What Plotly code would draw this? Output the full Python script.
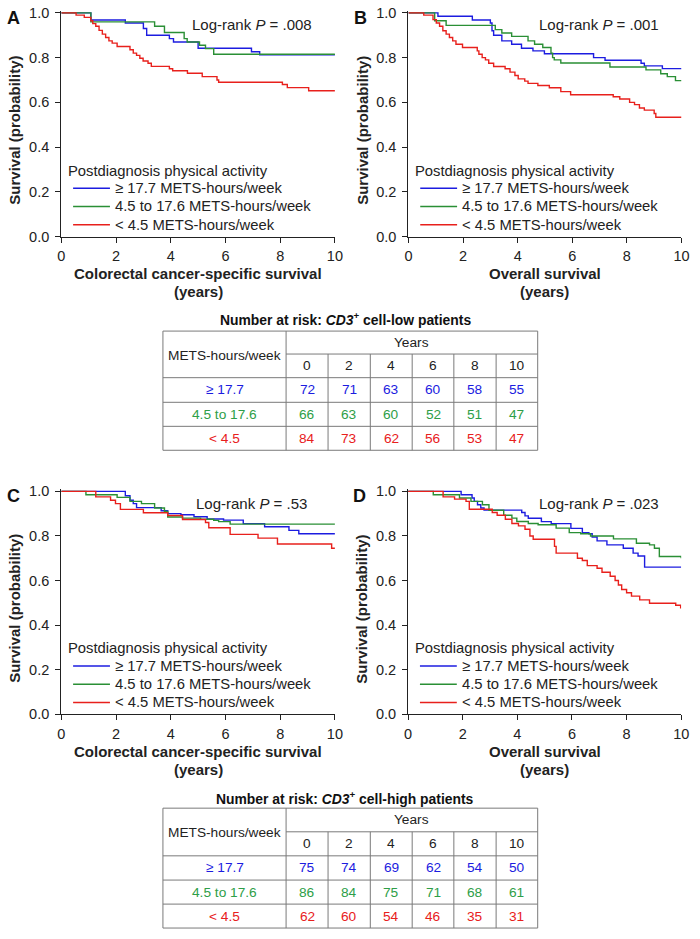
import plotly.graph_objects as go

W, H = 700, 939
FONT = "Liberation Sans, Arial, sans-serif"

groups = ["≥ 17.7 METS-hours/week", "4.5 to 17.6 METS-hours/week", "< 4.5 METS-hours/week"]
line_colors = ["#1c1ce0", "#2a8f35", "#e8201c"]
text_colors = ["#1c1ce0", "#2e9e48", "#e8201c"]
row_labels = ["≥ 17.7", "4.5 to 17.6", "< 4.5"]
year_ticks = [0, 2, 4, 6, 8, 10]

# ---- Panel A: colorectal cancer-specific survival, CD3 low ----
A_blue_t = [0, 1.08, 2.34, 3.0, 3.12, 3.95, 4.1, 5.0, 6.95, 7.25, 10]
A_blue_s = [1.0, 0.968, 0.955, 0.93, 0.90, 0.885, 0.87, 0.842, 0.826, 0.813, 0.813]
A_green_t = [0, 1.08, 3.41, 3.77, 4.49, 4.6, 5.05, 5.27, 5.57, 10]
A_green_s = [1.0, 0.96, 0.94, 0.912, 0.885, 0.87, 0.855, 0.84, 0.815, 0.815]
A_red_t = [0, 0.54, 0.84, 1.08, 1.15, 1.26, 1.38, 1.5, 1.62, 1.74, 1.86, 2.04, 2.51, 2.63, 2.75, 2.87,
           2.99, 3.17, 3.29, 3.95, 4.07, 4.61, 5.15, 5.69, 5.75, 8.08, 8.26, 9.04, 10]
A_red_s = [1.0, 0.99, 0.98, 0.965, 0.952, 0.94, 0.922, 0.905, 0.89, 0.875, 0.865, 0.85, 0.835, 0.82,
           0.81, 0.797, 0.785, 0.775, 0.761, 0.75, 0.741, 0.73, 0.715, 0.70, 0.69, 0.68, 0.666, 0.652, 0.652]

# ---- Panel B: overall survival, CD3 low ----
B_blue_t = [0, 1.08, 2.34, 3.0, 3.06, 3.12, 3.42, 3.78, 4.14, 4.56, 4.98, 6.78, 7.2, 8.52, 8.64, 9.3, 10]
B_blue_s = [1.0, 0.985, 0.968, 0.955, 0.92, 0.90, 0.875, 0.86, 0.842, 0.83, 0.817, 0.80, 0.788, 0.775,
            0.763, 0.751, 0.751]
B_green_t = [0, 0.96, 1.38, 3.18, 3.42, 3.78, 4.38, 4.62, 4.92, 5.22, 5.28, 5.34, 5.58, 7.38, 8.7, 9.24,
             9.48, 9.78, 10]
B_green_s = [1.0, 0.965, 0.944, 0.925, 0.91, 0.895, 0.875, 0.86, 0.845, 0.82, 0.80, 0.79, 0.776, 0.758,
             0.745, 0.728, 0.715, 0.697, 0.697]
B_red_t = [0, 0.56, 0.9, 1.02, 1.14, 1.26, 1.38, 1.5, 1.62, 1.74, 1.98, 2.52, 2.58, 2.7, 2.82, 2.94, 3.12,
           3.54, 3.72, 3.9, 4.02, 4.26, 4.38, 4.74, 5.16, 5.58, 5.94, 7.5, 7.74, 8.1, 8.28, 8.46, 8.64,
           9.0, 9.06, 10]
B_red_s = [1.0, 0.99, 0.97, 0.955, 0.94, 0.92, 0.905, 0.89, 0.875, 0.86, 0.845, 0.83, 0.815, 0.80, 0.79,
           0.775, 0.76, 0.75, 0.735, 0.72, 0.705, 0.695, 0.685, 0.675, 0.665, 0.648, 0.634, 0.625, 0.615,
           0.60, 0.59, 0.575, 0.565, 0.55, 0.533, 0.533]

# ---- Panel C: colorectal cancer-specific survival, CD3 high ----
C_blue_t = [0, 2.34, 2.51, 2.63, 2.75, 3.65, 3.89, 4.37, 4.85, 5.33, 5.93, 6.65, 7.43, 8.32, 8.68, 10]
C_blue_s = [1.0, 0.98, 0.96, 0.945, 0.927, 0.913, 0.90, 0.895, 0.886, 0.876, 0.871, 0.855, 0.841, 0.825,
            0.81, 0.81]
C_green_t = [0, 0.9, 2.04, 2.51, 2.93, 3.41, 3.77, 3.89, 4.43, 5.09, 5.57, 5.75, 6.17, 10]
C_green_s = [1.0, 0.985, 0.973, 0.955, 0.945, 0.925, 0.91, 0.885, 0.88, 0.875, 0.87, 0.864, 0.853, 0.853]
C_red_t = [0, 1.26, 1.8, 1.98, 2.16, 3.0, 3.89, 4.43, 5.27, 5.39, 6.17, 7.19, 7.9, 9.88, 10]
C_red_s = [1.0, 0.975, 0.96, 0.945, 0.919, 0.904, 0.892, 0.874, 0.86, 0.837, 0.807, 0.79, 0.764, 0.745,
           0.745]

# ---- Panel D: overall survival, CD3 high ----
D_blue_t = [0, 1.94, 2.34, 2.42, 2.54, 2.66, 2.78, 4.16, 4.28, 4.4, 4.88, 5.24, 5.96, 6.38, 6.62, 6.74,
            6.92, 7.28, 7.88, 8.24, 8.42, 8.66, 10]
D_blue_s = [1.0, 0.985, 0.97, 0.955, 0.94, 0.925, 0.916, 0.905, 0.89, 0.879, 0.864, 0.855, 0.834, 0.815,
            0.81, 0.795, 0.778, 0.76, 0.745, 0.723, 0.71, 0.66, 0.66]
D_green_t = [0, 0.92, 1.88, 2.3, 2.72, 2.96, 3.5, 3.8, 3.98, 4.4, 4.76, 5.42, 5.9, 6.32, 6.68, 7.52, 8.36,
             8.84, 9.02, 9.2, 10]
D_green_s = [1.0, 0.985, 0.97, 0.955, 0.94, 0.915, 0.893, 0.88, 0.865, 0.856, 0.85, 0.835, 0.815, 0.81,
             0.80, 0.787, 0.767, 0.76, 0.745, 0.708, 0.70]
D_red_t = [0, 1.28, 1.7, 2.12, 2.24, 3.08, 3.26, 3.56, 3.8, 4.04, 4.28, 4.46, 4.58, 5.36, 5.42, 6.2, 6.38,
           6.56, 6.92, 7.1, 7.4, 7.58, 7.7, 7.82, 8.0, 8.18, 8.48, 8.84, 9.8, 9.98, 10]
D_red_s = [1.0, 0.975, 0.965, 0.955, 0.92, 0.905, 0.893, 0.875, 0.856, 0.845, 0.83, 0.8, 0.785, 0.753,
           0.723, 0.70, 0.69, 0.667, 0.655, 0.637, 0.619, 0.60, 0.58, 0.56, 0.545, 0.53, 0.513, 0.498,
           0.489, 0.478, 0.478]

panel_letters = ["A", "B", "C", "D"]
log_rank = [".008", ".001", ".53", ".023"]
x_titles = ["Colorectal cancer-specific survival", "Overall survival",
            "Colorectal cancer-specific survival", "Overall survival"]

risk_low = [[72, 71, 63, 60, 58, 55], [66, 63, 60, 52, 51, 47], [84, 73, 62, 56, 53, 47]]
risk_high = [[75, 74, 69, 62, 54, 50], [86, 84, 75, 71, 68, 61], [62, 60, 54, 46, 35, 31]]
table_titles = ["<b>Number at risk: <i>CD3</i><sup>+</sup> cell-low patients</b>",
                "<b>Number at risk: <i>CD3</i><sup>+</sup> cell-high patients</b>"]

curves = [
    [(A_blue_t, A_blue_s), (A_green_t, A_green_s), (A_red_t, A_red_s)],
    [(B_blue_t, B_blue_s), (B_green_t, B_green_s), (B_red_t, B_red_s)],
    [(C_blue_t, C_blue_s), (C_green_t, C_green_s), (C_red_t, C_red_s)],
    [(D_blue_t, D_blue_s), (D_green_t, D_green_s), (D_red_t, D_red_s)],
]


# ---------- geometry (pixels) ----------
def px(x):
    return x / W


def py(y):
    return 1 - y / H


def note(text, x, y, size=14, color="#222", xanchor="center", **kw):
    return dict(text=text, x=px(x), y=py(y), xref="paper", yref="paper", showarrow=False,
                xanchor=xanchor, yanchor="middle", font=dict(size=size, family=FONT, color=color), **kw)


YMAX = 1.01
# (x0 pixel, x10 pixel, y0 pixel, y1 pixel)
panels_px = [(58.3, 336.7, 234.0, 7.0), (411.5, 689.3, 234.0, 7.0),
             (58.3, 336.7, 719.0, 492.7), (411.2, 689.0, 719.0, 492.7)]

fig = go.Figure()
layout = dict(width=W, height=H, margin=dict(l=0, r=0, t=0, b=0),
              plot_bgcolor="white", paper_bgcolor="white", showlegend=False,
              font=dict(family=FONT, size=14, color="#222"))
annotations = []
shapes = []

AX = "#222222"
TICKF = dict(family=FONT, size=14.5, color="#222")
for i, (x0, x1, yb, yt) in enumerate(panels_px):
    n = "" if i == 0 else str(i + 1)
    ytop = yb - (yb - yt) * YMAX
    layout["xaxis" + n] = dict(domain=[px(x0), px(x1)], range=[0, 10], anchor="y" + n,
                               tickvals=year_ticks, ticks="outside", ticklen=5, tickwidth=1.3,
                               tickcolor=AX, showline=True, linecolor=AX, linewidth=1.3,
                               showgrid=False, zeroline=False, ticklabelstandoff=1, tickfont=TICKF)
    layout["yaxis" + n] = dict(domain=[py(yb), py(ytop)], range=[0, YMAX], anchor="x" + n,
                               tickvals=[0, 0.2, 0.4, 0.6, 0.8, 1.0], tickformat=".1f",
                               ticks="outside", ticklen=5, tickwidth=1.3, tickcolor=AX,
                               showline=True, linecolor=AX, linewidth=1.3, showgrid=False,
                               zeroline=False, ticklabelstandoff=3, tickfont=TICKF)
    for g, (t, s) in enumerate(curves[i]):
        fig.add_trace(go.Scatter(x=t, y=s, mode="lines", line=dict(color=line_colors[g], width=1.4,
                                 shape="hv"), name=groups[g], xaxis="x" + n, yaxis="y" + n,
                                 hoverinfo="skip"))
    annotations.append(note("<b>%s</b>" % panel_letters[i], x0 - 49, yt + 5, size=18, color="#111"))
    annotations.append(note("<b>Survival (probability)</b>", x0 - 47, (yb + yt) / 2 + 6, size=15,
                            textangle=-90))
    xc = (x0 + x1) / 2
    annotations.append(note("<b>%s</b>" % x_titles[i], xc, yb + 38, size=15))
    annotations.append(note("<b>(years)</b>", xc, yb + 56, size=15))
    annotations.append(note("Log-rank <i>P</i> = %s" % log_rank[i], x0 + 194, yt + 12, size=15))
    annotations.append(note("Postdiagnosis physical activity", x0 + 5, yb - 67, size=14.8,
                            xanchor="left"))
    for g in range(3):
        ly = yb - 49 + g * 18.5
        shapes.append(dict(type="line", xref="paper", yref="paper", x0=px(x0 + 12), x1=px(x0 + 49.5),
                           y0=py(ly), y1=py(ly), line=dict(color=line_colors[g], width=1.4)))
        annotations.append(note(groups[g], x0 + 52.5, ly, size=14.8, xanchor="left"))

# ---------- number-at-risk tables ----------
TL, TR = 161.7, 543.0
cols = [287.0, 329.7, 372.7, 415.3, 457.7, 500.7, 543.0]
tables = [(318.0, [330.0, 353.3, 377.3, 402.3, 426.7, 451.0], risk_low),
          (804.0, [814.3, 838.3, 862.7, 887.3, 911.7, 936.0], risk_high)]
GRID = "#7a7a7a"
TF = 13.7
for k, (ty, rows, data) in enumerate(tables):
    annotations.append(note(table_titles[k], 347, ty, size=13.9, color="#111"))

    def hline(y, xa, xb):
        shapes.append(dict(type="line", xref="paper", yref="paper", x0=px(xa), x1=px(xb),
                           y0=py(y), y1=py(y), line=dict(color=GRID, width=1)))

    def vline(x, ya, yb_):
        shapes.append(dict(type="line", xref="paper", yref="paper", x0=px(x), x1=px(x),
                           y0=py(ya), y1=py(yb_), line=dict(color=GRID, width=1)))

    hline(rows[0], TL, TR)
    hline(rows[1], cols[0], TR)
    for r in rows[2:]:
        hline(r, TL, TR)
    vline(TL, rows[0], rows[-1])
    vline(TR, rows[0], rows[-1])
    vline(cols[0], rows[0], rows[-1])
    for c in cols[1:-1]:
        vline(c, rows[1], rows[-1])
    annotations.append(note("METS-hours/week", (TL + cols[0]) / 2, (rows[0] + rows[2]) / 2 + 1, size=TF))
    annotations.append(note("Years", (cols[0] + TR) / 2, (rows[0] + rows[1]) / 2, size=TF))
    for j, yr in enumerate(year_ticks):
        annotations.append(note(str(yr), (cols[j] + cols[j + 1]) / 2, (rows[1] + rows[2]) / 2, size=TF))
    for g in range(3):
        yc = (rows[2 + g] + rows[3 + g]) / 2
        annotations.append(note(row_labels[g], (TL + cols[0]) / 2, yc, size=TF, color=text_colors[g]))
        for j, v in enumerate(data[g]):
            annotations.append(note(str(v), (cols[j] + cols[j + 1]) / 2, yc, size=TF,
                                    color=text_colors[g]))

layout["annotations"] = annotations
layout["shapes"] = shapes
fig.update_layout(**layout)
fig.write_html("out.html", config={"displayModeBar": False},
               post_script=("document.documentElement.style.overflow='hidden';"
                            "document.body.style.margin='0';document.body.style.overflow='hidden';"
                            "var gd=document.getElementsByClassName('plotly-graph-div')[0];"
                            "gd.style.position='fixed';gd.style.left='0px';gd.style.top='0px';"))
